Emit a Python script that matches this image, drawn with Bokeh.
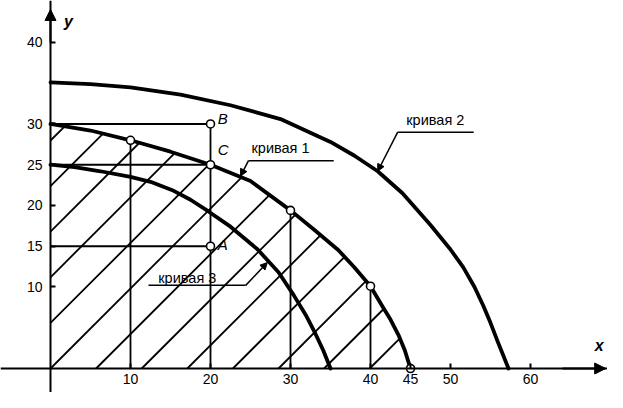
import numpy as np
from bokeh.plotting import figure
from bokeh.models import LinearAxis, FixedTicker, Arrow, NormalHead, ColumnDataSource, Grid
from bokeh.embed import file_html
from bokeh.resources import INLINE
from bokeh.core.properties import value

# ---- data ----
curve1_x = [0, 5, 10, 15, 20, 25, 30, 33, 36, 38, 40, 41.5, 42.5, 43.5, 44.3, 45]
curve1_y = [30.0, 29.2, 28.0, 26.6, 25.0, 23.0, 19.4, 17.0, 14.5, 12.4, 10.1, 7.6, 6.0, 4.1, 2.2, 0]

curve2_x = [0, 5, 10, 16.25, 22.5, 28.75, 35, 38, 40.9, 44, 47.5, 50, 51.6, 53, 54.1, 55, 55.9, 56.6, 57.25]
curve2_y = [35.1, 34.9, 34.5, 33.6, 32.3, 30.6, 27.8, 26.1, 24.2, 21.5, 17.6, 14.6, 12.4, 10.0, 7.7, 5.6, 3.3, 1.6, 0]

curve3_x = [0, 3, 6.25, 10, 12.5, 15.4, 17.5, 19.7, 22.5, 25.9, 28.5, 30.4, 32, 33.1, 34.1, 35]
curve3_y = [25.0, 24.7, 24.2, 23.5, 22.9, 21.8, 20.7, 19.3, 17.4, 14.6, 11.8, 9.0, 6.4, 4.3, 2.2, 0]

# points on curve 1
pts_x = [10, 20, 30, 40, 45]
pts_y = [28.0, 25.0, 19.4, 10.1, 0]
# points B and A
pb_x, pb_y = 20, 30
pa_x, pa_y = 20, 15

x_ticks = [10, 20, 30, 40, 45, 50, 60]
y_ticks = [10, 15, 20, 25, 30, 40]

point_labels = ["B", "C", "A"]
curve_labels = ["кривая 1", "кривая 2", "кривая 3"]

# ---- layout / style constants ----
FONT = "Liberation Sans"
W, H = 607, 392
XR = (-6.25, 69.625)
YR = (-2.945, 45.15)
HATCH_STEP = 5.7          # horizontal spacing of hatch lines (x units)

p = figure(width=W, height=H, x_range=XR, y_range=YR,
           output_backend="svg", toolbar_location=None,
           x_axis_location=None, y_axis_location=None, min_border=0)
for g in p.select(type=Grid):
    g.visible = False
p.outline_line_color = None
p.background_fill_color = "white"
p.border_fill_color = "white"

# hatching at 45 degrees (in screen space), clipped to the area under curve 1
sx = W / (XR[1] - XR[0])
sy = H / (YR[1] - YR[0])
slope = sx / sy
grid = np.linspace(0, max(curve1_x), 4000)
c1 = np.interp(grid, curve1_x, curve1_y)
hx0, hy0, hx1, hy1 = [], [], [], []
for k in range(-10, 12):
    c = k * HATCH_STEP
    x_start = max(c, 0.0)
    y_start = slope * (x_start - c)
    if x_start >= max(curve1_x) or y_start >= curve1_y[0]:
        continue
    diff = c1 - slope * (grid - c)
    mask = grid >= x_start
    idx = np.where(mask & (diff <= 0))[0]
    if len(idx) == 0:
        continue
    xe = grid[idx[0]]
    hx0.append(x_start); hy0.append(y_start)
    hx1.append(xe); hy1.append(slope * (xe - c))
p.segment(x0=hx0, y0=hy0, x1=hx1, y1=hy1, line_color="black", line_width=1.8)

# guide lines
vx = pts_x[:-1]
vy = [pts_y[0], pb_y, pts_y[2], pts_y[3]]
p.segment(x0=vx, y0=[0] * len(vx), x1=vx, y1=vy, line_color="black", line_width=1.8)
hy = [pb_y, pts_y[1], pa_y]
p.segment(x0=[0] * 3, y0=hy, x1=[pb_x] * 3, y1=hy, line_color="black", line_width=1.8)

# curves
for cx, cy in [(curve1_x, curve1_y), (curve2_x, curve2_y), (curve3_x, curve3_y)]:
    p.line(cx, cy, line_color="black", line_width=3.8, line_join="round", line_cap="round")

# axes
ax_style = dict(axis_line_width=2, axis_line_color="black",
                major_tick_line_width=2, major_tick_in=5, major_tick_out=0,
                minor_tick_in=0, minor_tick_out=0,
                major_label_text_font=FONT, major_label_text_font_size="14px",
                major_label_text_color="black")
xaxis = LinearAxis(fixed_location=0, ticker=FixedTicker(ticks=x_ticks),
                   major_label_standoff=6, **ax_style)
yaxis = LinearAxis(fixed_location=0, ticker=FixedTicker(ticks=y_ticks),
                   major_label_standoff=8, **ax_style)
p.add_layout(xaxis, "below")
p.add_layout(yaxis, "left")

p.add_layout(Arrow(x_start=64, y_start=0, x_end=69.4, y_end=0, line_width=2,
                   end=NormalHead(size=11, fill_color="black", line_color="black")))
p.add_layout(Arrow(x_start=0, y_start=40, x_end=0, y_end=44.05, line_width=2,
                   end=NormalHead(size=11, fill_color="black", line_color="black")))

p.text(x=[2.25], y=[42.6], text=["y"], text_font=value(FONT), text_font_size="16px",
       text_font_style="bold italic", text_align="center", text_baseline="middle")
p.text(x=[68.6], y=[2.8], text=["x"], text_font=value(FONT), text_font_size="16px",
       text_font_style="bold italic", text_align="center", text_baseline="middle")

# points
p.scatter(pts_x + [pb_x, pa_x], pts_y + [pb_y, pa_y], marker="circle", size=8,
          fill_color="white", line_color="black", line_width=1.6)

# point labels
p.text(x=[20.9, 20.9, 20.9], y=[30.7, 26.9, 15.2], text=point_labels,
       text_font=value(FONT), text_font_size="15px", text_font_style="italic",
       text_align="left", text_baseline="middle")

# curve labels with leaders
lab_src = ColumnDataSource(dict(x=[28.75, 48.1, 17.1], y=[27.0, 30.5, 11.1], t=curve_labels))
p.text(x="x", y="y", text="t", source=lab_src, text_font=value(FONT), text_font_size="14.5px",
       text_align="center", text_baseline="middle")
under_x0 = [24.75, 43.4, 12.25]
under_x1 = [35.4, 52.9, 24.4]
under_y = [25.5, 29.0, 10.2]
p.segment(x0=under_x0, y0=under_y, x1=under_x1, y1=under_y, line_color="black", line_width=1.5)
leader_start = [(24.75, 25.5), (43.4, 29.0), (24.4, 10.2)]
leader_tip = [(23.75, 23.6), (40.9, 24.2), (27.1, 13.0)]
for (lx, ly), (tx, ty) in zip(leader_start, leader_tip):
    p.add_layout(Arrow(x_start=lx, y_start=ly, x_end=tx, y_end=ty, line_width=1.5,
                       end=NormalHead(size=7, fill_color="black", line_color="black")))

open("out.html", "w").write(file_html(p, INLINE))
